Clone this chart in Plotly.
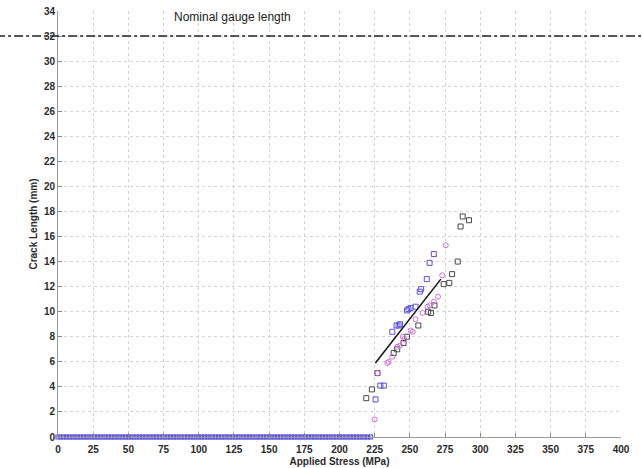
import plotly.graph_objects as go

# ---- data ----
base_x = [0, 2, 4, 6, 8, 10, 12, 14, 16, 18, 20, 22, 24, 26, 28, 30, 32, 34, 36, 38,
          40, 42, 44, 46, 48, 50, 52, 54, 56, 58, 60, 62, 64, 66, 68, 70, 72, 74, 76, 78,
          80, 82, 84, 86, 88, 90, 92, 94, 96, 98, 100, 102, 104, 106, 108, 110, 112, 114,
          116, 118, 120, 122, 124, 126, 128, 130, 132, 134, 136, 138, 140, 142, 144, 146,
          148, 150, 152, 154, 156, 158, 160, 162, 164, 166, 168, 170, 172, 174, 176, 178,
          180, 182, 184, 186, 188, 190, 192, 194, 196, 198, 200, 202, 204, 206, 208, 210,
          212, 214, 216, 218, 220, 222]
base_y = [0] * len(base_x)

black_x = [219, 223, 227, 238.5, 241, 245.5, 248, 256, 263, 265, 267.5, 274, 278, 280, 284, 286, 287.5, 292]
black_y = [3.1, 3.8, 5.1, 6.7, 7.0, 7.5, 8.0, 8.9, 10.0, 9.9, 10.5, 12.2, 12.3, 13.0, 14.0, 16.8, 17.6, 17.3]

blue_x = [225.6, 229, 231.5, 237.5, 240.5, 242, 243, 248, 249, 250.5, 254, 257, 258, 262, 264, 267]
blue_y = [3.0, 4.1, 4.1, 8.4, 8.9, 8.9, 9.0, 10.1, 10.2, 10.3, 10.4, 11.6, 11.8, 12.6, 13.9, 14.6]

magenta_x = [225, 227, 234, 235, 237.5, 241, 243, 245, 246, 250.5, 252, 254, 259, 262.5, 264, 267, 270, 273, 275.5]
magenta_y = [1.4, 5.1, 5.9, 6.0, 6.4, 7.2, 7.3, 8.0, 7.8, 8.5, 8.4, 9.4, 9.9, 10.4, 10.5, 10.8, 11.2, 12.9, 15.3]

fit_x = [225.5, 272]
fit_y = [5.9, 12.6]

gauge_length = 32
gauge_label = "Nominal gauge length"

x_ticks = [0, 25, 50, 75, 100, 125, 150, 175, 200, 225, 250, 275, 300, 325, 350, 375, 400]
y_ticks = [0, 2, 4, 6, 8, 10, 12, 14, 16, 18, 20, 22, 24, 26, 28, 30, 32, 34]

BLUE = "#5a52d6"
MAG = "#d070d8"
BLK = "#4a4a4a"
FONT = "Liberation Sans, Arial"

fig = go.Figure()
fig.add_trace(go.Scatter(x=base_x, y=base_y, mode="markers", cliponaxis=False,
                         marker=dict(symbol="square-open", size=4, color=BLUE, line=dict(width=1.2))))
fig.add_trace(go.Scatter(x=black_x, y=black_y, mode="markers", cliponaxis=False,
                         marker=dict(symbol="square-open", size=5, color=BLK, line=dict(width=1))))
fig.add_trace(go.Scatter(x=blue_x, y=blue_y, mode="markers", cliponaxis=False,
                         marker=dict(symbol="square-open", size=5, color=BLUE, line=dict(width=1))))
fig.add_trace(go.Scatter(x=magenta_x, y=magenta_y, mode="markers", cliponaxis=False,
                         marker=dict(symbol="circle-open", size=5, color=MAG, line=dict(width=1))))
fig.add_trace(go.Scatter(x=fit_x, y=fit_y, mode="lines",
                         line=dict(color="#111111", width=1.5)))

fig.add_shape(type="line", xref="paper", yref="y", x0=-0.11, x1=1.05,
              y0=gauge_length, y1=gauge_length,
              line=dict(color="#222222", width=1.5, dash="dashdot"))
fig.add_annotation(x=124, y=33.5, text=gauge_label, showarrow=False,
                   font=dict(family=FONT, size=12, color="#222222"))

axis_common = dict(showgrid=True, gridcolor="#d4d4d4", griddash="dot", gridwidth=1,
                   showline=True, linecolor="#999999", linewidth=1,
                   ticks="inside", ticklen=4, tickcolor="#888888",
                   zeroline=False, automargin=False,
                   tickfont=dict(family=FONT, size=10, color="#2a2a2a", weight="bold"))

fig.update_xaxes(range=[0, 400], tickvals=x_ticks, ticklabelstandoff=3, **axis_common,
                 title=dict(text="Applied Stress (MPa)", standoff=3,
                            font=dict(family=FONT, size=10, color="#2a2a2a", weight="bold")))
fig.update_yaxes(range=[0, 34], tickvals=y_ticks, **axis_common,
                 title=dict(text="Crack Length (mm)", standoff=4,
                            font=dict(family=FONT, size=10, color="#2a2a2a", weight="bold")))

fig.update_layout(width=642, height=468, showlegend=False,
                  plot_bgcolor="white", paper_bgcolor="white",
                  margin=dict(l=58, r=21, t=11, b=31))

fig.write_html("out.html")
